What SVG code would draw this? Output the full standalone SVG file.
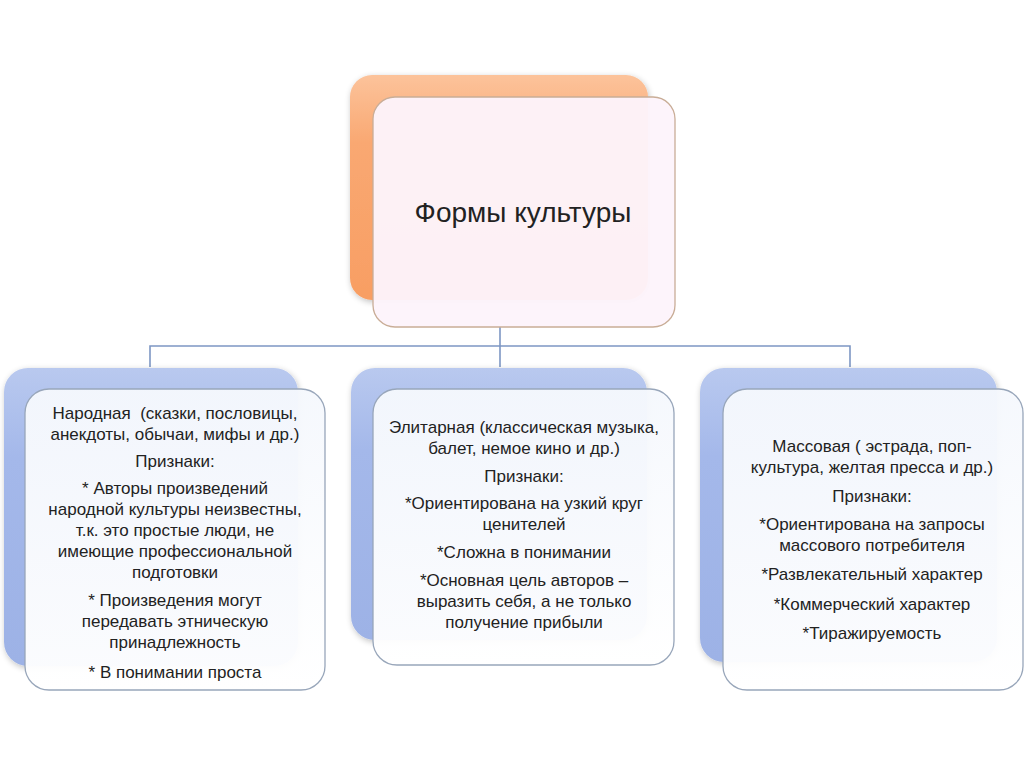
<svg xmlns="http://www.w3.org/2000/svg" width="1024" height="767" viewBox="0 0 1024 767">
<defs>
<linearGradient id="gOrange" x1="0" y1="0" x2="0" y2="1">
<stop offset="0" stop-color="#fcc39b"/>
<stop offset="0.3" stop-color="#f9a872"/>
<stop offset="1" stop-color="#f89e63"/>
</linearGradient>
<linearGradient id="gBlue" x1="0" y1="0" x2="0" y2="1">
<stop offset="0" stop-color="#b9c9ef"/>
<stop offset="0.3" stop-color="#a4b8ea"/>
<stop offset="1" stop-color="#9db2e6"/>
</linearGradient>
<linearGradient id="gFrontBlue" x1="0" y1="0" x2="0" y2="1">
<stop offset="0" stop-color="#f5f8fd"/>
<stop offset="1" stop-color="#ffffff"/>
</linearGradient>
<filter id="sh" x="-10%" y="-10%" width="120%" height="120%">
<feGaussianBlur in="SourceAlpha" stdDeviation="3"/>
<feOffset dx="1" dy="2"/>
<feComponentTransfer><feFuncA type="linear" slope="0.25"/></feComponentTransfer>
<feMerge><feMergeNode/><feMergeNode in="SourceGraphic"/></feMerge>
</filter>
</defs>
<style>
.back-o{fill:url(#gOrange);filter:url(#sh)}
.front-o{fill:#fdf4fb;fill-opacity:0.96;stroke:#c9ad97;stroke-width:1.3}
.back-b{fill:url(#gBlue);filter:url(#sh)}
.front-b{fill:url(#gFrontBlue);fill-opacity:0.96;stroke:#98a6ba;stroke-width:1.3}
.conn{fill:none;stroke:#7d97c4;stroke-width:1.6}
text{font-family:"Liberation Sans","DejaVu Sans",sans-serif;fill:#222222;text-anchor:middle}
.t{font-size:17px}
.title{font-size:28px}
</style>
<rect width="1024" height="767" fill="#ffffff"/>
<g id="connectors">
<path class="conn" d="M500 327 V346 M150 367 V346 H850 V367 M500 346 V367"/>
</g>
<g id="node-root">
<rect class="back-o" x="350" y="75" width="298" height="225" rx="22"/>
<rect class="front-o" x="373" y="97" width="302" height="230" rx="22"/>
<text class="title" x="523" y="222">Формы культуры</text>
</g>
<g id="node-folk">
<rect class="back-b" x="4" y="368" width="294" height="298" rx="24"/>
<rect class="front-b" x="25" y="389" width="300" height="301" rx="24"/>
<text class="t" x="175" y="419" xml:space="preserve">Народная  (сказки, пословицы,</text>
<text class="t" x="175" y="440">анекдоты, обычаи, мифы и др.)</text>
<text class="t" x="175" y="467">Признаки:</text>
<text class="t" x="175" y="494">* Авторы произведений</text>
<text class="t" x="175" y="515">народной культуры неизвестны,</text>
<text class="t" x="175" y="536">т.к. это простые люди, не</text>
<text class="t" x="175" y="557">имеющие профессиональной</text>
<text class="t" x="175" y="578">подготовки</text>
<text class="t" x="175" y="606">* Произведения могут</text>
<text class="t" x="175" y="627">передавать этническую</text>
<text class="t" x="175" y="648">принадлежность</text>
<text class="t" x="175" y="678">* В понимании проста</text>
</g>
<g id="node-elite">
<rect class="back-b" x="351" y="368" width="296" height="272" rx="24"/>
<rect class="front-b" x="373" y="389" width="301" height="276" rx="24"/>
<text class="t" x="524" y="433">Элитарная (классическая музыка,</text>
<text class="t" x="524" y="454">балет, немое кино и др.)</text>
<text class="t" x="524" y="482">Признаки:</text>
<text class="t" x="524" y="509">*Ориентирована на узкий круг</text>
<text class="t" x="524" y="530">ценителей</text>
<text class="t" x="524" y="558">*Сложна в понимании</text>
<text class="t" x="524" y="586">*Основная цель авторов –</text>
<text class="t" x="524" y="607">выразить себя, а не только</text>
<text class="t" x="524" y="628">получение прибыли</text>
</g>
<g id="node-mass">
<rect class="back-b" x="700" y="368" width="297" height="294" rx="24"/>
<rect class="front-b" x="723" y="389" width="300" height="301" rx="24"/>
<text class="t" x="872" y="452">Массовая ( эстрада, поп-</text>
<text class="t" x="872" y="473">культура, желтая пресса и др.)</text>
<text class="t" x="872" y="502">Признаки:</text>
<text class="t" x="872" y="530">*Ориентирована на запросы</text>
<text class="t" x="872" y="551">массового потребителя</text>
<text class="t" x="872" y="580">*Развлекательный характер</text>
<text class="t" x="872" y="610">*Коммерческий характер</text>
<text class="t" x="872" y="639">*Тиражируемость</text>
</g>
</svg>
